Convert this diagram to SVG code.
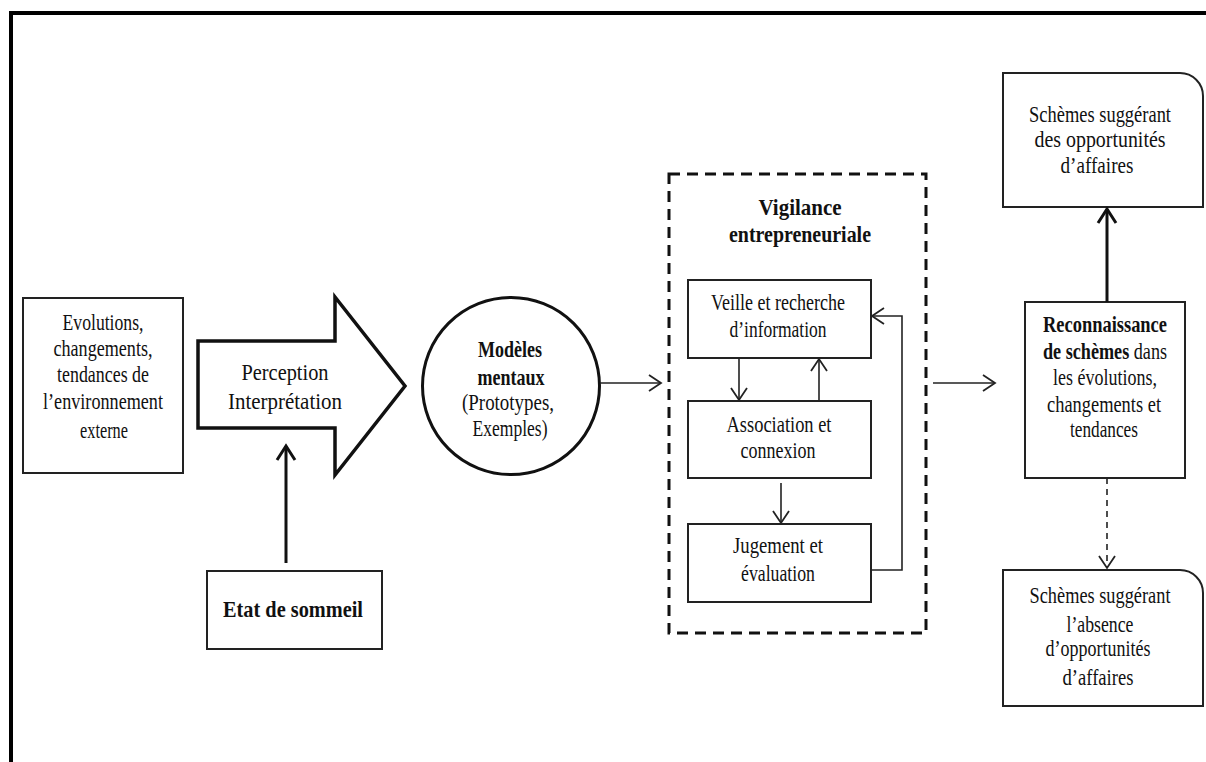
<svg xmlns="http://www.w3.org/2000/svg" width="1206" height="762" viewBox="0 0 1206 762">
<defs>
<style>
.t{font-family:"Liberation Serif","Times New Roman",serif;font-size:23px;fill:#111;text-anchor:middle}
.b{font-weight:bold;font-size:24px}
.box{fill:#fff;stroke:#222;stroke-width:2}
.c{fill:none;stroke:#222;stroke-width:1.6}
.ck{fill:none;stroke:#111;stroke-width:3}
</style>
<marker id="ah" markerUnits="userSpaceOnUse" viewBox="-2 -2 16 20" markerWidth="16" markerHeight="20" refX="12" refY="8" orient="auto">
<path d="M0,0 L12,8 L0,16" fill="none" stroke="#222" stroke-width="1.8"/>
</marker>
<marker id="ahk" markerUnits="userSpaceOnUse" viewBox="-3 -3 20 24" markerWidth="20" markerHeight="24" refX="14" refY="9" orient="auto">
<path d="M0,0 L14,9 L0,18" fill="none" stroke="#111" stroke-width="3"/>
</marker>
</defs>
<rect width="1206" height="762" fill="#fff"/>
<path d="M11,762 V13 H1206" fill="none" stroke="#000" stroke-width="4"/>

<g id="evolutions">
<rect class="box" x="23" y="298" width="160" height="175"/>
<text class="t" x="103" y="330" textLength="81" lengthAdjust="spacingAndGlyphs">Evolutions,</text>
<text class="t" x="103" y="356" textLength="99" lengthAdjust="spacingAndGlyphs">changements,</text>
<text class="t" x="103" y="382" textLength="92" lengthAdjust="spacingAndGlyphs">tendances de</text>
<text class="t" x="103" y="409" textLength="120" lengthAdjust="spacingAndGlyphs">l’environnement</text>
<text class="t" x="104" y="438" textLength="48" lengthAdjust="spacingAndGlyphs">externe</text>
</g>

<g id="perception">
<polygon points="198,341 335,341 335,297 405,386 335,475 335,428 198,428" fill="#fff" stroke="#111" stroke-width="3.5" stroke-linejoin="miter"/>
<text class="t" x="285" y="380" textLength="87" lengthAdjust="spacingAndGlyphs">Perception</text>
<text class="t" x="285" y="409" textLength="114" lengthAdjust="spacingAndGlyphs">Interprétation</text>
</g>

<g id="sommeil">
<rect class="box" x="207" y="571" width="175" height="78"/>
<text class="t b" x="293" y="617" textLength="140" lengthAdjust="spacingAndGlyphs">Etat de sommeil</text>
</g>

<g id="modeles">
<circle cx="511" cy="386" r="88.5" fill="#fff" stroke="#111" stroke-width="3"/>
<text class="t b" x="510" y="357" textLength="64" lengthAdjust="spacingAndGlyphs">Modèles</text>
<text class="t b" x="511" y="385" textLength="67" lengthAdjust="spacingAndGlyphs">mentaux</text>
<text class="t" x="508" y="410" textLength="92" lengthAdjust="spacingAndGlyphs">(Prototypes,</text>
<text class="t" x="510" y="436" textLength="75" lengthAdjust="spacingAndGlyphs">Exemples)</text>
</g>

<g id="vigilance">
<rect x="669" y="174" width="257" height="459" fill="none" stroke="#111" stroke-width="3" stroke-dasharray="11 7"/>
<text class="t b" x="800" y="215" textLength="83" lengthAdjust="spacingAndGlyphs">Vigilance</text>
<text class="t b" x="800" y="242" textLength="142" lengthAdjust="spacingAndGlyphs">entrepreneuriale</text>
</g>

<g id="veille">
<rect class="box" x="688" y="280" width="183" height="78"/>
<text class="t" x="778" y="310" textLength="134" lengthAdjust="spacingAndGlyphs">Veille et recherche</text>
<text class="t" x="778" y="337" textLength="97" lengthAdjust="spacingAndGlyphs">d’information</text>
</g>

<g id="association">
<rect class="box" x="688" y="401" width="183" height="77"/>
<text class="t" x="779" y="432" textLength="105" lengthAdjust="spacingAndGlyphs">Association et</text>
<text class="t" x="778" y="458" textLength="75" lengthAdjust="spacingAndGlyphs">connexion</text>
</g>

<g id="jugement">
<rect class="box" x="688" y="524" width="183" height="78"/>
<text class="t" x="778" y="553" textLength="90" lengthAdjust="spacingAndGlyphs">Jugement et</text>
<text class="t" x="778" y="581" textLength="74" lengthAdjust="spacingAndGlyphs">évaluation</text>
</g>

<g id="reconnaissance">
<rect class="box" x="1025" y="302" width="160" height="176"/>
<text class="t b" x="1105" y="332" textLength="124" lengthAdjust="spacingAndGlyphs">Reconnaissance</text>
<text class="t" x="0" y="0" transform="translate(1105,359) scale(0.79,1)"><tspan font-weight="bold">de schèmes</tspan> dans</text>
<text class="t" x="1105" y="385" textLength="104" lengthAdjust="spacingAndGlyphs">les évolutions,</text>
<text class="t" x="1104" y="412" textLength="114" lengthAdjust="spacingAndGlyphs">changements  et</text>
<text class="t" x="1104" y="437" textLength="68" lengthAdjust="spacingAndGlyphs">tendances</text>
</g>

<g id="opportunites">
<path class="box" d="M1003,73 H1180 A23,23 0 0 1 1203,96 V207 H1003 Z"/>
<text class="t" x="1100" y="122" textLength="142" lengthAdjust="spacingAndGlyphs">Schèmes suggérant</text>
<text class="t" x="1100" y="147" textLength="131" lengthAdjust="spacingAndGlyphs">des opportunités</text>
<text class="t" x="1097" y="173" textLength="73" lengthAdjust="spacingAndGlyphs">d’affaires</text>
</g>

<g id="absence">
<path class="box" d="M1003,570 H1180 A23,23 0 0 1 1203,593 V706 H1003 Z"/>
<text class="t" x="1100" y="603" textLength="141" lengthAdjust="spacingAndGlyphs">Schèmes suggérant</text>
<text class="t" x="1100" y="632" textLength="67" lengthAdjust="spacingAndGlyphs">l’absence</text>
<text class="t" x="1098" y="656" textLength="105" lengthAdjust="spacingAndGlyphs">d’opportunités</text>
<text class="t" x="1098" y="685" textLength="71" lengthAdjust="spacingAndGlyphs">d’affaires</text>
</g>

<g id="connectors">
<path class="c" d="M600,383 H661" marker-end="url(#ah)"/>
<path class="c" d="M933,383 H995" marker-end="url(#ah)"/>
<path class="ck" d="M286,563 V446" marker-end="url(#ahk)"/>
<path class="c" d="M739,358 V400" marker-end="url(#ah)"/>
<path class="c" d="M819,401 V359" marker-end="url(#ah)"/>
<path class="c" d="M781,483 V523" marker-end="url(#ah)"/>
<path class="c" d="M871,570 H902 V316 H872" marker-end="url(#ah)"/>
<path class="ck" d="M1107,302 V209" marker-end="url(#ahk)"/>
<path class="c" d="M1107,478 V568" stroke-dasharray="6 5" marker-end="url(#ah)"/>
</g>
</svg>
